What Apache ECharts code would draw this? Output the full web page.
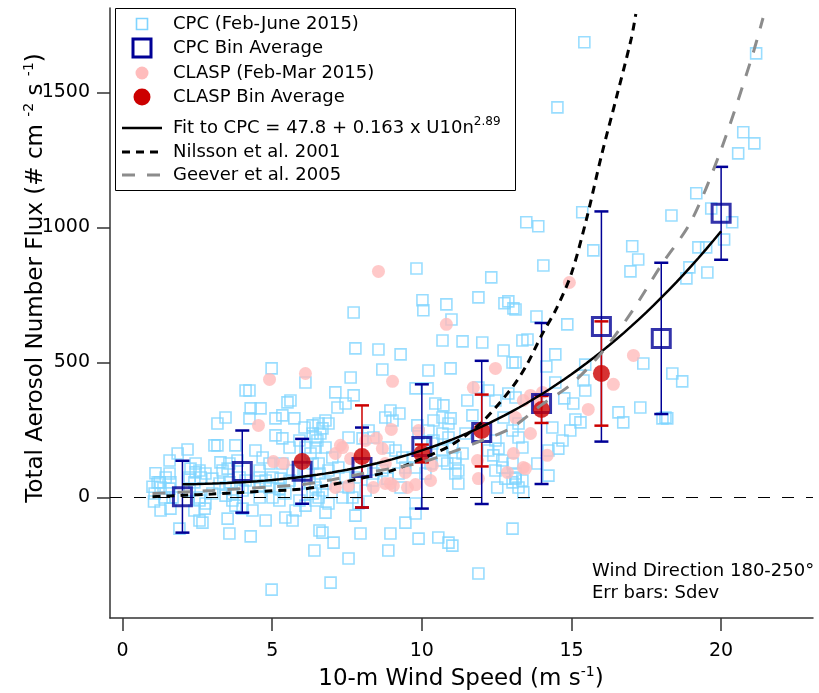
<!DOCTYPE html>
<html>
<head>
<meta charset="utf-8">
<script src="https://cdn.jsdelivr.net/npm/echarts@6/dist/echarts.min.js"></script>
<style>
  html, body { margin: 0; padding: 0; background: #fff; }
  #chart { width: 819px; height: 693px; }
</style>
</head>
<body>
<div id="chart"></div>
<script>
// Individual CPC flux samples: [10-m wind speed (m/s), flux (# cm-2 s-1)]
const cpcPoints = [
  [15.43,1685],[21.17,1644],[14.53,1444],[20.74,1352],[21.11,1311],[20.57,1274],
  [13.49,1019],[13.89,1004],[15.36,1056],[18.34,1044],[19.17,1126],[19.67,1070],[20.37,1019],
  [15.73,915],[17.03,930],[17.23,881],[16.97,837],[19.24,926],[19.5,926],[18.94,852],[18.84,811],[19.54,833],[20.1,955],
  [17.4,496],[18.37,459],[18.7,430],[15.46,492],[15.46,396],[16.57,315],[17.3,333],[18.14,296],[16.73,278],[18.04,293],[18.2,293],
  [14.06,859],[14.86,641],[13.83,670],[13.53,585],[14.46,530],[14.16,485],[13.13,696],[13.13,500],
  [15.4,433],[14.76,367],[14.46,426],[15.13,289],[15.3,278],[14.96,248],[14.36,259],[14.7,211],[14.23,174],[14.56,181],
  [13.23,222],[13.36,185],[14.23,81],[13.39,19],[13.13,70],[13.86,126],[15.06,348],
  [9.82,848],[12.32,815],[10.02,730],[10.05,693],[10.82,715],[11.89,741],[12.76,719],[12.89,726],[13.06,700],[7.72,685],[10.99,659],
  [10.69,581],[11.36,578],[12.02,574],[12.73,544],[13.03,500],[13.36,581],[7.78,552],[8.55,548],[9.29,530],[8.68,474],
  [10.22,470],[10.96,478],[7.62,444],[7.11,389],[7.72,378],[7.18,333],[7.45,348],[8.95,322],[9.25,311],[9.79,404],
  [10.19,404],[10.45,348],[10.72,341],[10.96,293],[11.52,359],[11.89,407],[12.22,396],[12.46,359],[12.89,385],[13.13,370],
  [12.73,296],[6.78,285],[6.68,256],[6.45,222],[7.55,222],[8.02,219],[8.88,185],[9.12,174],[9.85,267],[10.69,237],
  [10.89,222],[10.35,200],[11.36,163],[11.12,126],[11.12,89],[11.22,52],[12.22,174],[12.39,156],[12.69,111],[13.13,89],
  [13.23,37],[13.03,56],[12.52,37],[10.69,174],[10.85,126],[10.29,126],[9.79,111],[10.12,89],[9.22,89],[9.29,37],
  [8.68,100],[8.85,70],[8.35,63],[8.12,26],[7.55,37],[7.35,0],[6.68,26],[6.55,0],[6.88,-22],[6.78,-56],
  [7.78,-67],[9.79,-22],[9.79,-59],[9.45,-93],[6.68,-130],[7.05,-167],[7.95,-133],[8.95,-133],[8.88,-196],[9.89,-152],
  [10.55,-148],[10.89,-167],[11.02,-178],[7.55,-226],[11.89,-281],[13.03,-115],[6.95,-315],
  [4.98,478],[6.11,426],[4.11,396],[4.24,396],[5.61,359],[5.51,352],[4.61,330],[4.28,330],[3.44,296],[3.17,274],
  [5.34,304],[5.11,293],[5.74,293],[4.24,293],[6.08,259],[5.11,230],[5.34,219],[3.17,193],[3.07,193],[3.77,193],
  [4.44,174],[6.35,237],[6.51,211],[2.17,178],[1.84,163],[1.57,137],[1.57,89],[1.24,56],[2.57,100],[2.61,74],
  [2.4,56],[3.0,70],[3.34,100],[3.51,107],[4.58,100],[4.91,126],[1.07,15],[1.4,0],[1.27,-48],[1.6,-41],
  [1.9,-115],[2.4,-48],[2.74,-41],[2.57,-85],[2.67,-93],[3.51,-78],[3.57,-133],[4.28,-144],[4.78,-85],[3.77,-30],
  [4.01,-41],[4.34,-48],[4.58,0],[5.01,0],[5.24,-11],[5.44,-74],[5.68,-85],[5.78,-48],[6.41,-196],[6.58,-122],
  [4.98,-341],[5.34,126],[5.68,100],[6.11,100],[6.35,15],[6.45,-11],[2.24,26],[2.57,0],[3.0,15],[3.44,37],
  [3.67,15],[4.01,26],[4.24,37],[4.58,44],[4.91,37],
  [1.17,56],[1.27,37],[1.44,74],[1.6,56],[2.24,74],[2.44,93],[2.77,89],[3.24,52],[3.57,56],[3.91,74],
  [4.11,63],[4.58,74],[4.78,63],[5.01,74],[5.28,70],[5.58,63],[5.91,52],[6.25,56],[6.45,37],[6.58,89],
  [6.35,126],[5.24,33],[5.44,15],[5.91,-11],[6.11,-30],[3.44,7],[3.67,-11],[2.57,-11],[2.77,-22],[1.57,33],
  [1.67,0],[2.44,126],[2.27,107],[3.27,130],[3.57,126],[3.84,137],[5.91,211],[6.11,185],[6.28,163],[5.58,185],
  [4.68,148],[6.35,267],[1.0,40],[1.05,-15],[1.1,90],
  [6.55,274],[6.88,274],[6.61,237],[6.45,185],[6.78,185],[7.01,148],[6.55,126],[6.88,100],[7.21,111],[7.45,74],
  [6.78,52],[7.68,0],[7.88,-22],[7.78,74],[8.38,89],[9.35,148],[9.69,148],[9.45,111],[10.69,137],[11.12,148],
  [11.22,100],[11.02,185],[11.46,237],[11.69,304],[10.39,285],[10.69,296],[10.89,274],[9.89,237],[10.22,248],[10.39,211],
  [12.46,211],[12.56,181],[13.03,248],[13.23,274],[12.69,137],[13.03,126],[12.46,100],[12.79,70],[13.13,74],[13.36,63],
  [8.78,296],[9.02,285],[8.22,248],[8.38,222]
];

// Individual CLASP flux samples
const claspPoints = [
  [4.91,437],[6.11,459],[4.54,267],[5.04,133],[5.38,126],[9.02,430],[8.98,252],[8.48,219],[8.68,181],[8.12,211],
  [7.28,193],[7.11,163],[7.62,144],[8.78,126],[7.11,37],[7.55,44],[8.38,37],[8.78,52],[9.05,44],[9.52,37],
  [9.79,48],[10.29,63],[10.35,118],[9.89,248],[11.72,407],[12.46,478],[11.86,137],[11.89,70],[13.06,163],[12.86,93],
  [13.39,111],[13.13,296],[13.39,359],[14.93,796],[17.07,526],[16.4,419],[15.56,326],[13.63,378],[13.89,348],[13.63,237],
  [14.19,156],[13.46,107],[8.55,837],[10.82,641],[14.03,389],[8.95,52],[9.45,93],[7.35,185]
];

// Bin statistics (mean and standard deviation per wind-speed bin)
const cpcBinSpeed = [2, 4, 6, 8, 10, 12, 14, 16, 18, 20];
const cpcBinMean  = [3, 96, 97, 111, 189, 241, 348, 633, 589, 1052];
const cpcBinSdev  = [133, 152, 120, 148, 230, 265, 298, 426, 280, 172];

const claspBinSpeed = [6, 8, 10, 12, 14, 16];
const claspBinMean  = [133, 152, 163, 248, 326, 459];
const claspBinSdev  = [0, 189, 33, 133, 50, 193];

// Published parameterisations
const nilssonSpeed = [1, 2, 3, 4, 5, 6, 7, 8, 9, 10, 11, 12, 13, 13.5, 14, 14.5, 15, 15.5, 16, 16.5, 17, 17.15];
const nilssonFlux  = [3, 8, 13, 19, 25, 31, 48, 72, 100, 144, 195, 278, 405, 490, 600, 700, 830, 1030, 1265, 1480, 1700, 1790];
const geeverSpeed  = [1, 2, 3, 4, 5, 6, 7, 8, 9, 10, 11, 12, 13, 14, 15, 16, 17, 18, 19, 20, 21, 21.4];
const geeverFlux   = [15, 20, 26, 33, 40, 48, 66, 88, 108, 130, 168, 211, 258, 343, 420, 535, 685, 860, 1023, 1288, 1620, 1775];

// Power-law fit to the CPC data: F = A + B * U10n^P
const FIT_A = 47.8, FIT_B = 0.163, FIT_P = 2.89;
const FIT_RANGE = [2, 20];

const xTicks = [0, 5, 10, 15, 20];
const yTicks = [0, 500, 1000, 1500];

const FONT = 'DejaVu Sans';
const C_CPC = '#80d4ff', C_CPC_BIN = '#000096', C_CLASP = '#ffbcbc', C_CLASP_BIN = '#cc0000', C_GEEVER = '#8c8c8c';

const fitData = [];
for (let u = FIT_RANGE[0]; u <= FIT_RANGE[1] + 1e-9; u += 0.25) {
  fitData.push([u, FIT_A + FIT_B * Math.pow(u, FIT_P)]);
}
const zip = (a, b) => a.map((v, i) => [v, b[i]]);
const errData = (xs, m, s) => xs.map((x, i) => [x, m[i] - s[i], m[i] + s[i]]).filter((d, i) => s[i] > 0);

function errorBars(color) {
  return function (params, api) {
    const x = api.value(0);
    const lo = api.coord([x, api.value(1)]);
    const hi = api.coord([x, api.value(2)]);
    const hw = 7;
    return {
      type: 'group',
      children: [
        { type: 'line', shape: { x1: lo[0], y1: lo[1], x2: hi[0], y2: hi[1] }, style: { stroke: color, lineWidth: 1.5 } },
        { type: 'line', shape: { x1: hi[0] - hw, y1: hi[1], x2: hi[0] + hw, y2: hi[1] }, style: { stroke: color, lineWidth: 2.5 } },
        { type: 'line', shape: { x1: lo[0] - hw, y1: lo[1], x2: lo[0] + hw, y2: lo[1] }, style: { stroke: color, lineWidth: 2.5 } }
      ]
    };
  };
}

const chart = echarts.init(document.getElementById('chart'));

const axisCommon = {
  type: 'value',
  splitLine: { show: false },
  axisLine: { show: true, onZero: false, lineStyle: { color: '#333', width: 1.5 } },
  axisTick: { show: true, length: 13, lineStyle: { color: '#333', width: 1.5 } },
  axisLabel: { color: '#000', fontSize: 19, fontFamily: FONT, formatter: v => String(v) }
};

// Legend drawn as a boxed key
const LX = 142, TX = 173;
const rows = [24, 48, 73, 97, 128, 152, 175];
const legendText = [
  'CPC (Feb-June 2015)', 'CPC Bin Average', 'CLASP (Feb-Mar 2015)', 'CLASP Bin Average',
  'Fit to CPC = 47.8 + 0.163 x U10n{sup|2.89}', 'Nilsson et al. 2001', 'Geever et al. 2005'
];
const legendGraphics = [
  { type: 'rect', shape: { x: 115.5, y: 8.5, width: 400, height: 182 }, style: { fill: '#fff', stroke: '#000', lineWidth: 1 }, z: 10 },
  { type: 'rect', shape: { x: LX - 5.5, y: rows[0] - 5.5, width: 11, height: 11 }, style: { fill: 'none', stroke: C_CPC, lineWidth: 1.6 }, z: 11 },
  { type: 'rect', shape: { x: LX - 9, y: rows[1] - 9, width: 18, height: 18 }, style: { fill: 'none', stroke: C_CPC_BIN, lineWidth: 3 }, z: 11 },
  { type: 'circle', shape: { cx: LX, cy: rows[2], r: 6.5 }, style: { fill: C_CLASP }, z: 11 },
  { type: 'circle', shape: { cx: LX, cy: rows[3], r: 8.5 }, style: { fill: C_CLASP_BIN }, z: 11 },
  { type: 'line', shape: { x1: 122, y1: rows[4], x2: 162, y2: rows[4] }, style: { stroke: '#000', lineWidth: 2.5 }, z: 11 },
  { type: 'line', shape: { x1: 122, y1: rows[5], x2: 162, y2: rows[5] }, style: { stroke: '#000', lineWidth: 3, lineDash: [8, 6] }, z: 11 },
  { type: 'line', shape: { x1: 122, y1: rows[6], x2: 162, y2: rows[6] }, style: { stroke: C_GEEVER, lineWidth: 3, lineDash: [13, 12] }, z: 11 }
].concat(legendText.map((t, i) => ({
  type: 'text', x: TX, y: rows[i], z: 11,
  style: {
    text: t, fill: '#000', fontSize: 18, fontFamily: FONT, align: 'left', verticalAlign: 'middle', lineHeight: 24,
    rich: { sup: { fontSize: 12, fontFamily: FONT, lineHeight: 12, verticalAlign: 'top' } }
  }
})));

const titleRich = { sup: { fontSize: 14, fontFamily: FONT, lineHeight: 12, verticalAlign: 'top' } };

chart.setOption({
  animation: false,
  grid: { left: 110, right: 6, top: 8, bottom: 75 },
  xAxis: Object.assign({}, axisCommon, {
    min: -0.42, max: 23.07,
    axisTick: Object.assign({}, axisCommon.axisTick, { customValues: xTicks }),
    axisLabel: Object.assign({}, axisCommon.axisLabel, { customValues: xTicks, margin: 24 })
  }),
  yAxis: Object.assign({}, axisCommon, {
    min: -446, max: 1812,
    axisTick: Object.assign({}, axisCommon.axisTick, { customValues: yTicks }),
    axisLabel: Object.assign({}, axisCommon.axisLabel, { customValues: yTicks, margin: 20 })
  }),
  graphic: legendGraphics.concat([
    {
      type: 'text', x: 461, y: 679,
      style: {
        text: '10-m Wind Speed (m s{sup|-1})', fill: '#000', fontSize: 23, fontFamily: FONT,
        align: 'center', verticalAlign: 'middle', lineHeight: 28, rich: titleRich
      }
    },
    {
      type: 'text', x: 36, y: 278, rotation: Math.PI / 2,
      style: {
        text: 'Total Aerosol Number Flux (# cm {sup|-2} s {sup|-1})', fill: '#000', fontSize: 23, fontFamily: FONT,
        align: 'center', verticalAlign: 'middle', lineHeight: 28, rich: titleRich
      }
    },
    {
      type: 'text', x: 592, y: 571,
      style: { text: 'Wind Direction 180-250°', fill: '#000', fontSize: 18, fontFamily: FONT, align: 'left', verticalAlign: 'middle' }
    },
    {
      type: 'text', x: 592, y: 593,
      style: { text: 'Err bars: Sdev', fill: '#000', fontSize: 18, fontFamily: FONT, align: 'left', verticalAlign: 'middle' }
    }
  ]),
  series: [
    {
      name: 'zero', type: 'line', data: [], z: 1,
      markLine: {
        silent: true, symbol: ['none', 'none'], label: { show: false },
        lineStyle: { color: '#000', width: 1, type: [12, 12] },
        data: [{ yAxis: 0 }]
      }
    },
    {
      name: 'CPC', type: 'scatter', data: cpcPoints, symbol: 'rect', symbolSize: 11, z: 2,
      itemStyle: { color: 'rgba(255,255,255,0)', borderColor: C_CPC, borderWidth: 1.6 }
    },
    {
      name: 'CLASP', type: 'scatter', data: claspPoints, symbol: 'circle', symbolSize: 13, z: 3,
      itemStyle: { color: C_CLASP }
    },
    {
      name: 'CPC Sdev', type: 'custom', data: errData(cpcBinSpeed, cpcBinMean, cpcBinSdev),
      renderItem: errorBars(C_CPC_BIN), z: 4, encode: { x: 0, y: [1, 2] }
    },
    {
      name: 'CLASP Sdev', type: 'custom', data: errData(claspBinSpeed, claspBinMean, claspBinSdev),
      renderItem: errorBars(C_CLASP_BIN), z: 5, encode: { x: 0, y: [1, 2] }
    },
    {
      name: 'CPC Bin Average', type: 'scatter', data: zip(cpcBinSpeed, cpcBinMean), symbol: 'rect', symbolSize: 18, z: 6,
      itemStyle: { color: 'rgba(255,255,255,0)', borderColor: C_CPC_BIN, borderWidth: 3 }
    },
    {
      name: 'CLASP Bin Average', type: 'scatter', data: zip(claspBinSpeed, claspBinMean), symbol: 'circle', symbolSize: 17, z: 7,
      itemStyle: { color: C_CLASP_BIN }
    },
    {
      name: 'Fit', type: 'line', data: fitData, showSymbol: false, symbol: 'none', z: 8,
      lineStyle: { color: '#000', width: 2.5 }
    },
    {
      name: 'Nilsson', type: 'line', data: zip(nilssonSpeed, nilssonFlux), symbol: 'none', smooth: 0.3, z: 8,
      lineStyle: { color: '#000', width: 3, type: [8, 6] }
    },
    {
      name: 'Geever', type: 'line', data: zip(geeverSpeed, geeverFlux), symbol: 'none', smooth: 0.3, z: 8,
      lineStyle: { color: C_GEEVER, width: 3, type: [13, 12] }
    }
  ]
});
</script>
</body>
</html>
